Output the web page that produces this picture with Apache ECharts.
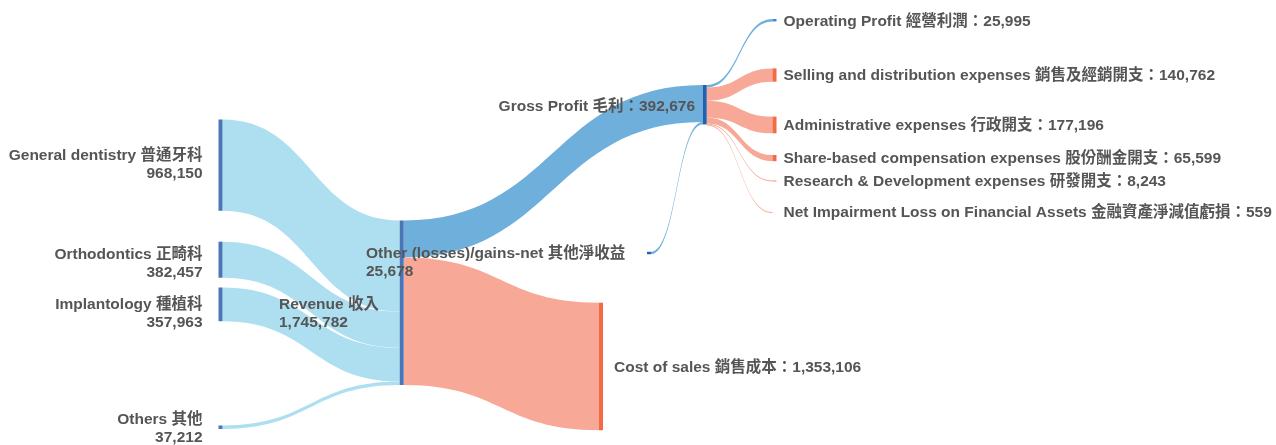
<!DOCTYPE html>
<html>
<head>
<meta charset="utf-8">
<title>Revenue Sankey</title>
<script src="https://cdn.jsdelivr.net/npm/echarts@6/dist/echarts.min.js"></script>
<style>
html, body { margin: 0; padding: 0; background: #fff; }
#sankeyChartContainer { width: 1276px; height: 445px; }
</style>
</head>
<body>
<div id="sankeyChartContainer"></div>
<script>
// 节点名称
var nodeNames = [
	'General dentistry 普通牙科',
	'Orthodontics 正畸科',
	'Implantology 種植科',
	'Others 其他',
	'Revenue 收入',
	'Other (losses)/gains-net 其他淨收益',
	'Gross Profit 毛利',
	'Cost of sales 銷售成本',
	'Operating Profit 經營利潤',
	'Selling and distribution expenses 銷售及經銷開支',
	'Administrative expenses 行政開支',
	'Share-based compensation expenses 股份酬金開支',
	'Research & Development expenses 研發開支',
	'Net Impairment Loss on Financial Assets 金融資產淨減值虧損'
];
// 节点标签上显示的数值
var nodeValues = [968150, 382457, 357963, 37212, 1745782, 25678, 392676, 1353106,
	25995, 140762, 177196, 65599, 8243, 559];

// 连线
var linkSources = [0, 1, 2, 3, 4, 4, 5, 6, 6, 6, 6, 6, 6];
var linkTargets = [4, 4, 4, 4, 6, 7, 6, 8, 9, 10, 11, 12, 13];
var linkValues = [968150, 382457, 357963, 37212, 392676, 1353106, 25678,
	25995, 140762, 177196, 65599, 8243, 559];

var sankeyChart = {
	width : 1276,
	height : 445,
	// 节点左上角位置（像素，换算为 localX / localY）
	nodeX : [218.5, 218.5, 218.5, 218.5, 399.7, 647, 702.7, 599, 772.5, 772.5, 772.5, 772.5, 772.5, 772.5],
	nodeY : [119.5, 241.7, 287.5, 425.5, 220.5, 251.8, 85, 302.7, 19, 68.4, 116.6, 155, 180.6, 212],
	nodeColors : ['#4a76b8', '#4a76b8', '#4a76b8', '#4a76b8', '#4a76b8', '#1e62b0', '#1e62b0', '#f26b43',
		'#3d8ad6', '#f26b43', '#f26b43', '#f26b43', '#f26b43', '#f26b43'],
	// 标签：位置、两行/一行、距离、垂直偏移
	labelSide : ['left', 'left', 'left', 'left', 'inner', 'inner', 'left', 'right',
		'right', 'right', 'right', 'right', 'right', 'right'],
	labelTwoLines : [true, true, true, true, true, true, false, false,
		false, false, false, false, false, false],
	labelDistance : [16, 16, 16, 16, 120.7, 281, 7.7, 11, 7, 7, 7, 7, 7, 7],
	labelOffsetY : [0, 4, 9.5, 1.5, 11, 10, 2, 1, 1, 1, 1, 1, 1, 1],

	fmt : function(v) {
		return String(v).replace(/\B(?=(\d{3})+(?!\d))/g, ',');
	},

	linkColor : function(i) {
		var s = linkSources[i], t = linkTargets[i];
		if (s <= 3) return '#aedff0';
		if (t === 7 || t >= 9) return '#f7a897';
		return '#6eb0db';
	},

	buildNodes : function() {
		var me = sankeyChart;
		var nodes = [];
		for (var i = 0; i < nodeNames.length; i++) {
			var side = me.labelSide[i];
			var text = me.labelTwoLines[i]
				? nodeNames[i] + '\n' + me.fmt(nodeValues[i])
				: nodeNames[i] + '：' + me.fmt(nodeValues[i]);
			var label = {
				formatter: text,
				position: side === 'right' ? 'right' : 'left',
				distance: me.labelDistance[i],
				offset: [0, me.labelOffsetY[i]]
			};
			if (side === 'inner') {
				label.align = 'left';
			}
			nodes.push({
				name: nodeNames[i],
				localX: me.nodeX[i] / me.width,
				localY: me.nodeY[i] / me.height,
				itemStyle: { color: me.nodeColors[i] },
				label: label
			});
		}
		return nodes;
	},

	buildLinks : function() {
		var links = [];
		for (var i = 0; i < linkValues.length; i++) {
			links.push({
				source: nodeNames[linkSources[i]],
				target: nodeNames[linkTargets[i]],
				value: linkValues[i],
				lineStyle: { color: sankeyChart.linkColor(i) }
			});
		}
		return links;
	},

	showChart : function() {
		var myChart = echarts.init(document.getElementById('sankeyChartContainer'));
		var option = {
			animation: false,
			series: [
				{
					type: 'sankey',
					left: 0,
					top: 0,
					right: 0,
					bottom: 0,
					nodeWidth: 4,
					nodeGap: 69.5,
					nodeAlign: 'left',
					layoutIterations: 0,
					draggable: false,
					emphasis: { disabled: true },
					lineStyle: { curveness: 0.5, opacity: 1 },
					label: {
						color: '#555',
						fontSize: 15.5,
						fontWeight: 'bold',
						fontFamily: '"Liberation Sans", "Noto Sans CJK TC", sans-serif',
						lineHeight: 18
					},
					data: sankeyChart.buildNodes(),
					links: sankeyChart.buildLinks()
				}
			]
		};
		myChart.setOption(option);
	}
};

sankeyChart.showChart();
</script>
</body>
</html>
